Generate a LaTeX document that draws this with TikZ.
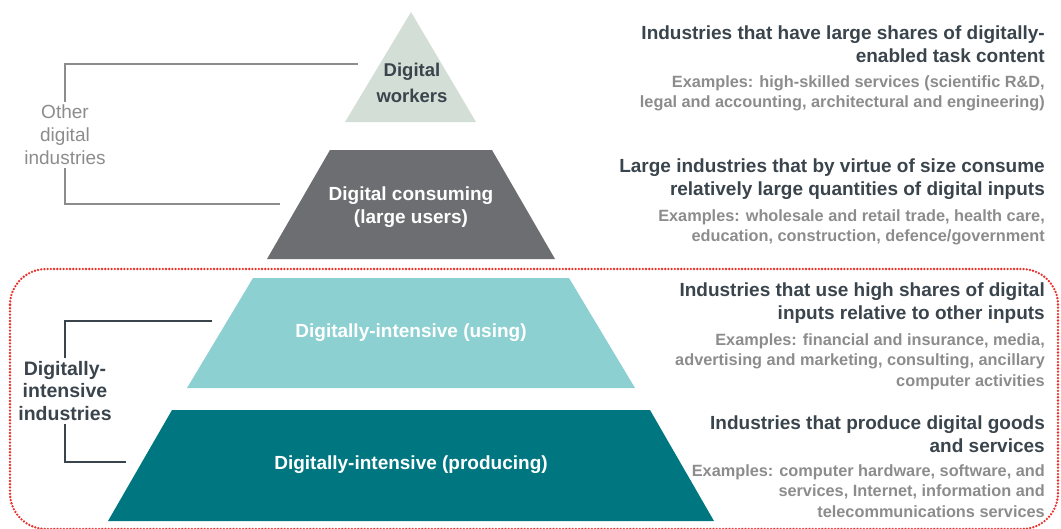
\documentclass[tikz,border=0pt]{standalone}
\usepackage{fontspec}
\setmainfont{Liberation Sans}
\usetikzlibrary{positioning}

\definecolor{workersfill}{HTML}{D3DED6}
\definecolor{consumefill}{HTML}{6D6E71}
\definecolor{usingfill}{HTML}{8DD0D1}
\definecolor{producefill}{HTML}{007780}
\definecolor{darktext}{HTML}{3A444C}
\definecolor{greytext}{HTML}{8C8C8C}
\definecolor{framered}{HTML}{E8312B}

\tikzset{
  tierlabel/.style={font=\fontsize{19}{23}\selectfont\bfseries, text=white, align=center, inner sep=0pt},
  headtext/.style={font=\fontsize{19}{23}\selectfont\bfseries, text=darktext, align=right, anchor=north east, inner sep=0pt},
  exampletext/.style={font=\fontsize{16.3}{20.5}\selectfont\bfseries, text=greytext, align=right, anchor=north east, inner sep=0pt},
  otherline/.style={draw=greytext, line width=1.3pt},
  intenseline/.style={draw=darktext, line width=1.7pt}
}

\begin{document}
\begin{tikzpicture}[x=1pt,y=-1pt]
	\useasboundingbox (0,0) rectangle (1061,528);
	%\draw[help lines] (0,0) grid[step=50] (1061,528);

	% the pyramid
	\fill[workersfill] (411,12) -- (476,122) -- (345,122) -- cycle;
	\fill[consumefill] (330,150) -- (492,150) -- (555,259) -- (267,259) -- cycle;
	\fill[usingfill] (253,278) -- (569,278) -- (635,388) -- (187,388) -- cycle;
	\fill[producefill] (172,410) -- (650,410) -- (714,521) -- (108,521) -- cycle;

	\node[tierlabel, text=darktext, font=\fontsize{18.5}{26}\selectfont\bfseries] (workers) at (412,83) {Digital\\workers};
	\node[tierlabel] (consuming) at (411,207) {Digital consuming\\(large users)};
	\node[tierlabel] (using) at (411,333) {Digitally-intensive (using)};
	\node[tierlabel] (producing) at (411,465) {Digitally-intensive (producing)};

	% red dotted frame round the digitally-intensive tiers
	\draw[framered, line width=2.6pt, line cap=round, dash pattern=on 0pt off 3.2pt,
	      rounded corners=36pt] (10,269) rectangle (1058,529);

	% left brackets
	\node[font=\fontsize{19}{23}\selectfont, text=greytext, align=center, inner sep=3pt] (other) at (65,135) {Other\\digital\\industries};
	\coordinate (otherend1) at (358,64);
	\coordinate (otherend2) at (280,204);
	\draw[otherline] (other.north) |- (otherend1);
	\draw[otherline] (other.south) |- (otherend2);

	\node[font=\fontsize{19.5}{22.5}\selectfont\bfseries, text=darktext, align=center, inner sep=3pt] (intensive) at (65,391) {Digitally-\\intensive\\industries};
	\coordinate (intenseend1) at (212,321);
	\coordinate (intenseend2) at (126,462);
	\draw[intenseline] (intensive.north) |- (intenseend1);
	\draw[intenseline] (intensive.south) |- (intenseend2);

	% right hand descriptions
	\node[headtext] (head1) at (1045,26) {Industries that have large shares of digitally-\\enabled task content};
	\node[exampletext] (ex1) at (1045,75) {Examples: high-skilled services (scientific R\&D,\\legal and accounting, architectural and engineering)};

	\node[headtext] (head2) at (1045,159) {Large industries that by virtue of size consume\\relatively large quantities of digital inputs};
	\node[exampletext] (ex2) at (1045,209) {Examples: wholesale and retail trade, health care,\\education, construction, defence/government};

	\node[headtext] (head3) at (1045,283) {Industries that use high shares of digital\\inputs relative to other inputs};
	\node[exampletext] (ex3) at (1045,333) {Examples: financial and insurance, media,\\advertising and marketing, consulting, ancillary\\computer activities};

	\node[headtext] (head4) at (1045,416) {Industries that produce digital goods\\and services};
	\node[exampletext] (ex4) at (1045,464) {Examples: computer hardware, software, and\\services, Internet, information and\\telecommunications services};
\end{tikzpicture}
\end{document}
